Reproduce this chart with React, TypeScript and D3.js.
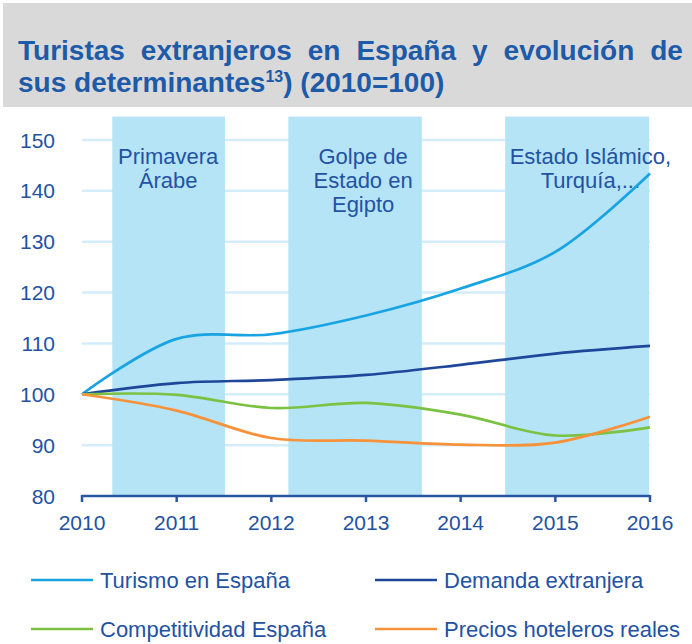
import React from "react";
import * as d3 from "d3";

const years = [2010, 2011, 2012, 2013, 2014, 2015, 2016];
const turismo = [100, 110.9, 111.8, 115.5, 120.8, 128.0, 143.4];
const demanda = [100, 102.2, 102.8, 103.8, 105.8, 108.0, 109.5];
const competitividad = [100, 99.9, 97.3, 98.3, 96.0, 91.9, 93.5];
const precios = [100, 96.8, 91.4, 90.9, 90.1, 90.5, 95.6];
const yTicks = [80, 90, 100, 110, 120, 130, 140, 150];
const bands = [
  [2010.32, 2011.51],
  [2012.18, 2013.59],
  [2014.47, 2015.99],
];
const events = [
  { x: 2010.91, lines: ["Primavera", "Árabe"] },
  { x: 2012.97, lines: ["Golpe de", "Estado en", "Egipto"] },
  { x: 2015.37, lines: ["Estado Islámico,", "Turquía,..."] },
];
const seriesNames = ["Turismo en España", "Demanda extranjera", "Competitividad España", "Precios hoteleros reales"];
const seriesData = [turismo, demanda, competitividad, precios];
const colors = ["#18a3e3", "#1f4799", "#7cc242", "#f7923a"];
const titleLines = ["Turistas extranjeros en España y evolución de", "sus determinantes"];

const W = 692;
const H = 644;
const textColor = "#2352a3";

export default function App() {
  const x = d3.scaleLinear().domain([2010, 2016]).range([82, 650]);
  const y = d3.scaleLinear().domain([80, 150]).range([496, 140]);
  const line = d3
    .line<number>()
    .x((_, i) => x(years[i]))
    .y((d) => y(d))
    .curve(d3.curveCatmullRom.alpha(0.5));

  const legendPos = [
    [31, 580],
    [375, 580],
    [31, 629],
    [375, 629],
  ];

  return (
    <svg
      width={W}
      height={H}
      style={{ position: "absolute", left: 0, top: 0, background: "#fff" }}
      fontFamily="'Liberation Sans', Arial, sans-serif"
    >
      <rect x={3} y={3} width={W - 3} height={104} fill="#d9d9d9" />
      <text x={18} y={60} fill="#1d5aa8" fontWeight="bold" fontSize={28} wordSpacing={8.2}>
        {titleLines[0]}
      </text>
      <text x={18} y={92} fill="#1d5aa8" fontWeight="bold" fontSize={28}>
        {titleLines[1]}
        <tspan fontSize={16} dy={-10}>13</tspan>
        <tspan dy={10}>) (2010=100)</tspan>
      </text>

      {yTicks.slice(1).map((t) => (
        <line key={t} x1={x(2010)} x2={x(2016)} y1={y(t)} y2={y(t)} stroke="#d3eefa" strokeWidth={2.5} />
      ))}
      {bands.map((b, i) => (
        <rect key={i} x={x(b[0])} y={y(154.6)} width={x(b[1]) - x(b[0])} height={y(80) - y(154.6)} fill="#b5e4f7" />
      ))}
      {events.map((e, i) => (
        <text key={i} x={x(e.x)} y={164} textAnchor="middle" fill={textColor} fontSize={22}>
          {e.lines.map((l, j) => (
            <tspan key={j} x={x(e.x)} dy={j === 0 ? 0 : 24}>
              {l}
            </tspan>
          ))}
        </text>
      ))}

      {yTicks.map((t) => (
        <text key={t} x={55} y={y(t) + 7.5} textAnchor="end" fill={textColor} fontSize={21}>
          {t}
        </text>
      ))}

      {seriesData.map((s, i) => (
        <path key={i} d={line(s) || ""} fill="none" stroke={colors[i]} strokeWidth={2.7} />
      ))}

      <line x1={x(2010)} x2={x(2016)} y1={y(80)} y2={y(80)} stroke="#2a55a0" strokeWidth={2.5} />
      {years.map((yr) => (
        <g key={yr}>
          <line x1={x(yr)} x2={x(yr)} y1={y(80) - 1} y2={y(80) + 6} stroke="#2a55a0" strokeWidth={2.5} />
          <text x={x(yr)} y={y(80) + 34} textAnchor="middle" fill={textColor} fontSize={21}>
            {yr}
          </text>
        </g>
      ))}

      {seriesNames.map((n, i) => (
        <g key={n}>
          <line
            x1={legendPos[i][0]}
            x2={legendPos[i][0] + 62}
            y1={legendPos[i][1]}
            y2={legendPos[i][1]}
            stroke={colors[i]}
            strokeWidth={2.7}
          />
          <text x={legendPos[i][0] + 69} y={legendPos[i][1] + 8} fill={textColor} fontSize={22}>
            {n}
          </text>
        </g>
      ))}
    </svg>
  );
}
